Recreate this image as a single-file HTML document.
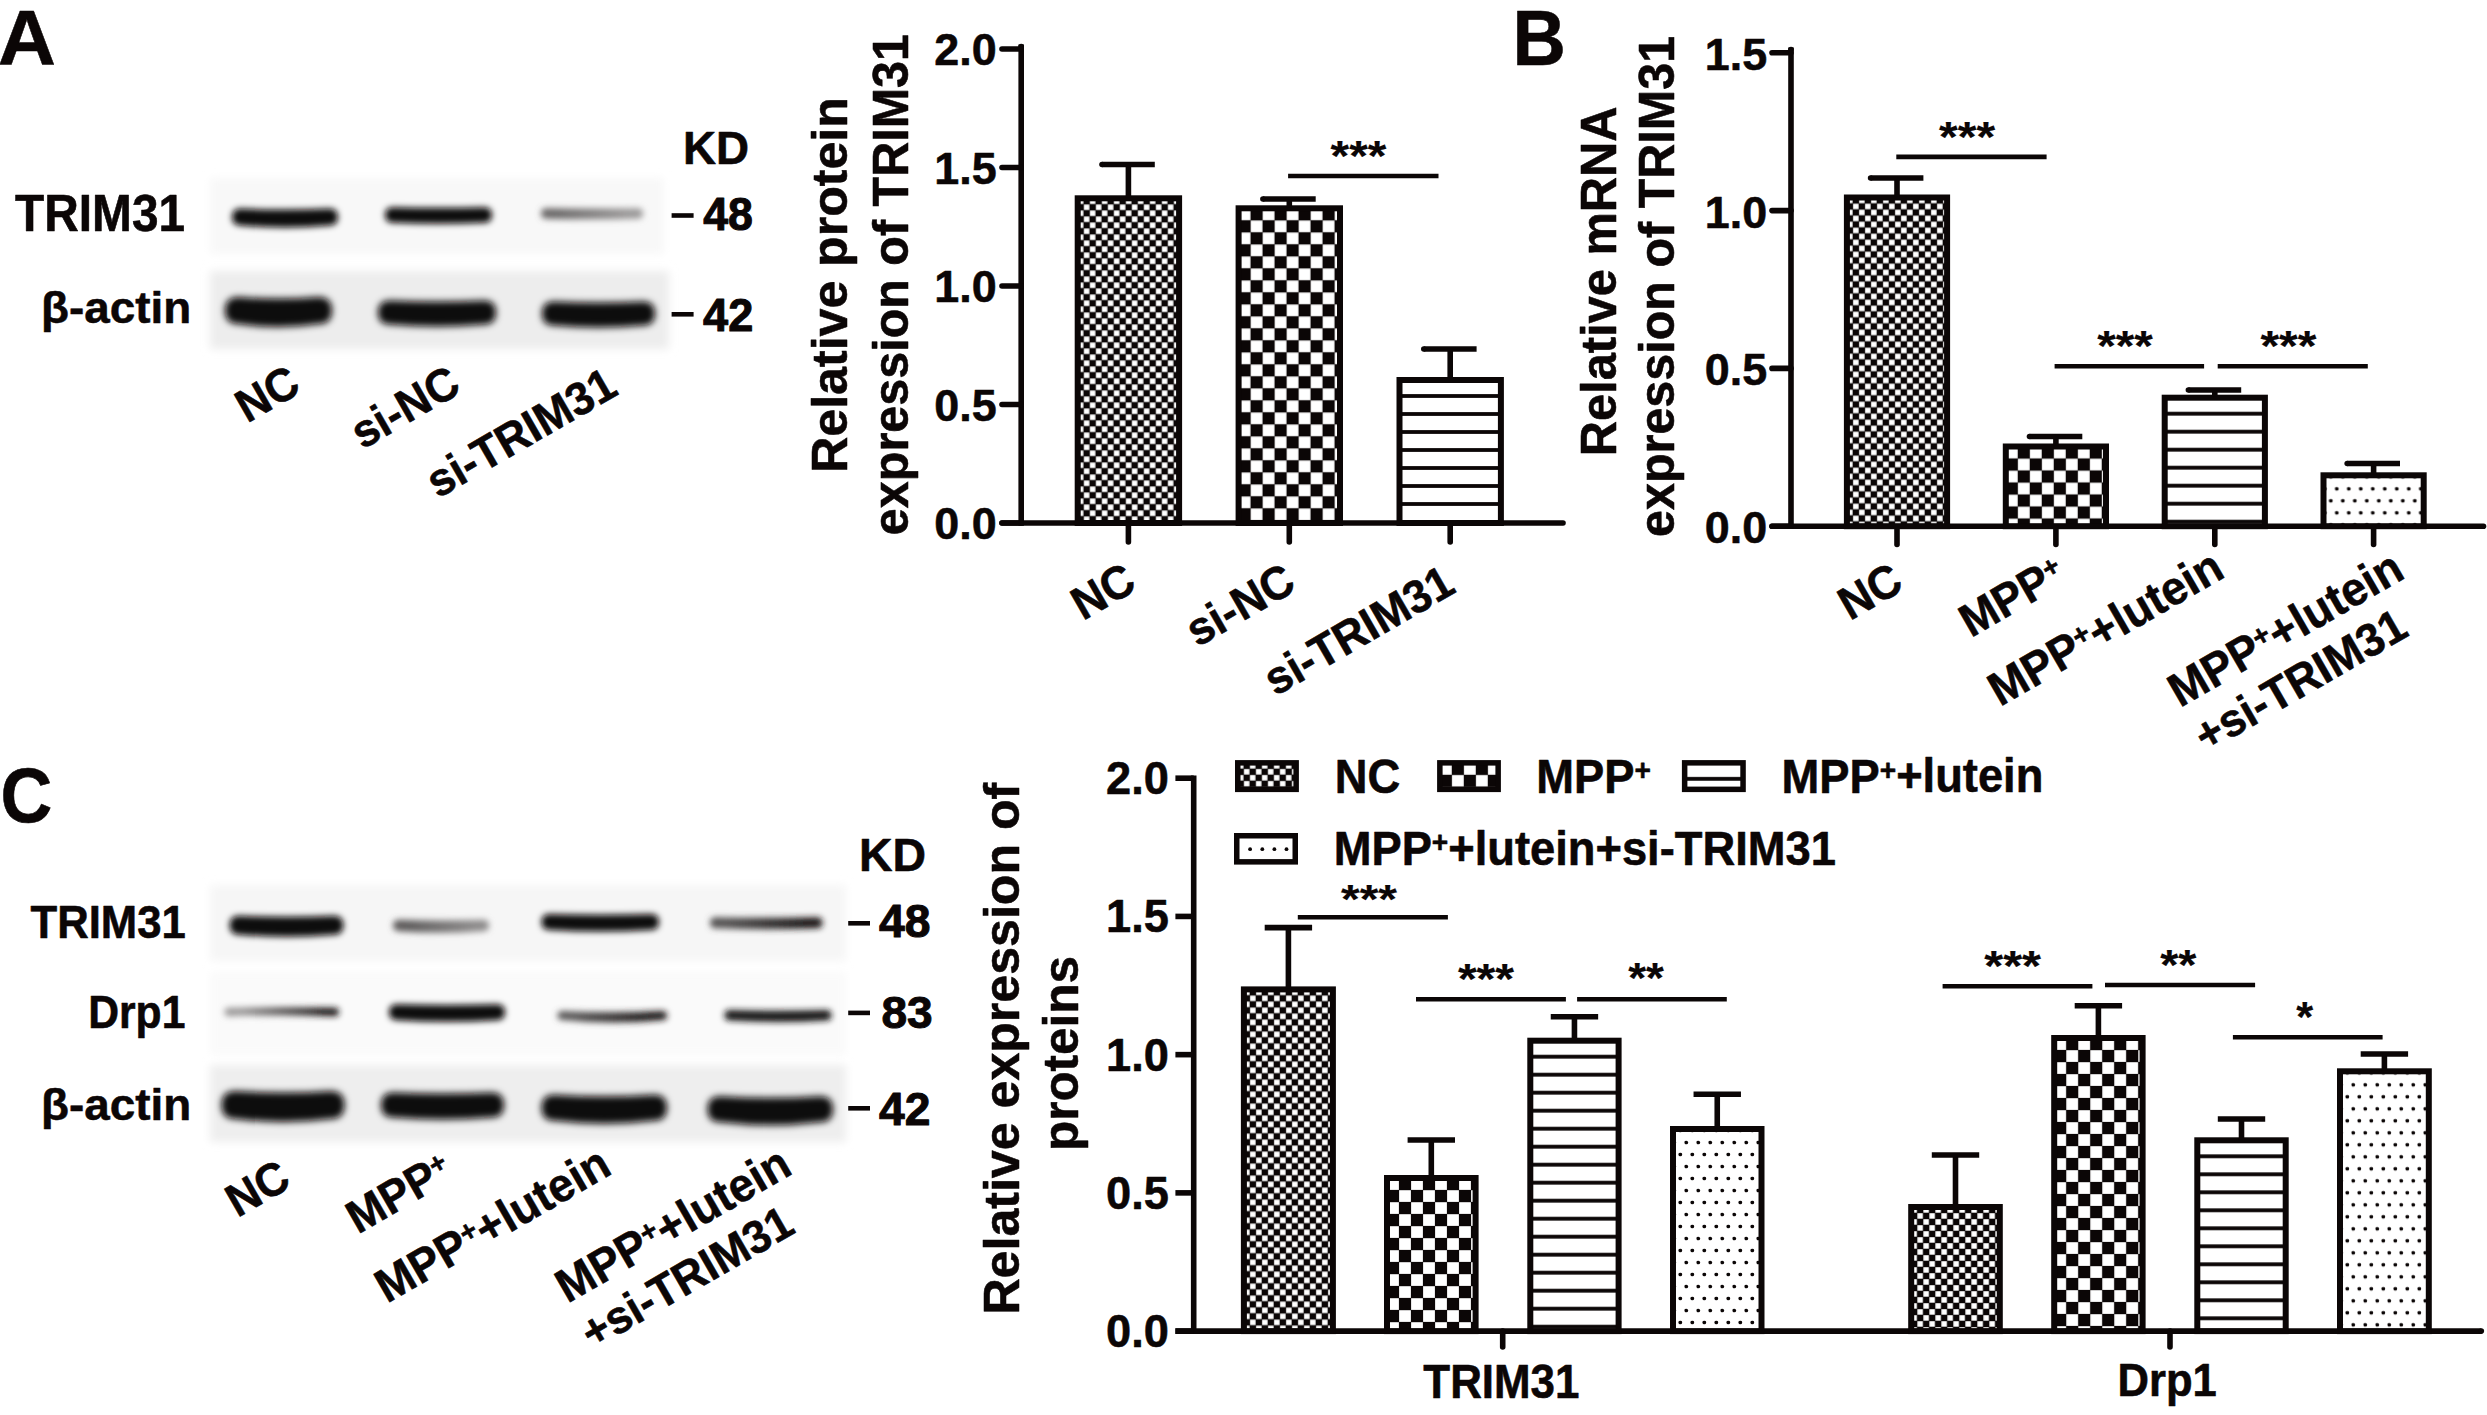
<!DOCTYPE html>
<html lang="en"><head><meta charset="utf-8"><title>Figure</title>
<style>
html,body{margin:0;padding:0;background:#fff;}
svg{display:block;}
text{font-family:"Liberation Sans",sans-serif;font-weight:700;fill:#0b0606;stroke:#0b0606;stroke-width:0.55px;stroke-linejoin:round;}
</style></head><body>
<svg width="2487" height="1415" viewBox="0 0 2487 1415">
<defs>
<pattern id="pf" width="12" height="12" patternUnits="userSpaceOnUse">
<rect width="12" height="12" fill="#0b0606"/><rect x="0.2" y="0.2" width="5.5" height="5.5" fill="#fff"/><rect x="6.2" y="6.2" width="5.5" height="5.5" fill="#fff"/></pattern>
<pattern id="pc" width="24" height="24" patternUnits="userSpaceOnUse">
<rect width="24" height="24" fill="#0b0606"/><rect x="0.1" y="0.2" width="11.8" height="11.7" fill="#fff"/><rect x="12.1" y="12.2" width="11.8" height="11.7" fill="#fff"/></pattern>
<pattern id="ph" width="18" height="18" patternUnits="userSpaceOnUse">
<rect width="18" height="18" fill="#fff"/><rect x="0" y="14.1" width="18" height="3.8" fill="#0b0606"/></pattern>
<pattern id="pd" width="12" height="24" patternUnits="userSpaceOnUse">
<rect width="12" height="24" fill="#fff"/><circle cx="7.3" cy="1.5" r="1.85" fill="#0b0606"/><circle cx="7.3" cy="25.5" r="1.85" fill="#0b0606"/><circle cx="1.3" cy="13.5" r="1.85" fill="#0b0606"/><circle cx="13.3" cy="13.5" r="1.85" fill="#0b0606"/></pattern>
<filter id="b2" x="-20%" y="-100%" width="140%" height="300%"><feGaussianBlur stdDeviation="3.1"/></filter>
<filter id="b3" x="-20%" y="-60%" width="140%" height="220%"><feGaussianBlur stdDeviation="3.6"/></filter>
<filter id="b6" x="-10%" y="-20%" width="120%" height="140%"><feGaussianBlur stdDeviation="4"/></filter>
</defs>
<rect width="2487" height="1415" fill="#fff"/>

<text transform="translate(-2.31 64.80) scale(1 0.9655)" font-size="80.60" text-anchor="start">A</text>
<text transform="translate(1512.41 64.80) scale(1 1.0466)" font-size="73.93" text-anchor="start">B</text>
<text transform="translate(0.53 822.22) scale(1 1.0873)" font-size="71.76" text-anchor="start">C</text>
<rect x="210" y="178" width="454" height="76" fill="#f8f8f8" filter="url(#b6)"/>
<rect x="210" y="271" width="459" height="78" fill="#ededed" filter="url(#b6)"/>
<path d="M240.5,208.5 Q285.0,210.5 329.5,208.5 Q338.0,208.5 338.0,217.0 Q338.0,225.5 329.5,225.5 Q285.0,229.5 240.5,225.5 Q232.0,225.5 232.0,217.0 Q232.0,208.5 240.5,208.5Z" fill="#0b0707" opacity="1" filter="url(#b2)"/>
<path d="M392.8,207.2 Q438.5,208.2 484.2,207.2 Q492.0,207.2 492.0,215.0 Q492.0,222.8 484.2,222.8 Q438.5,224.8 392.8,222.8 Q385.0,222.8 385.0,215.0 Q385.0,207.2 392.8,207.2Z" fill="#0b0707" opacity="1" filter="url(#b2)"/>
<linearGradient id="g1" gradientUnits="userSpaceOnUse" x1="541" y1="0" x2="643" y2="0"><stop offset="0.15" stop-color="#6a6868"/><stop offset="0.85" stop-color="#9a9898"/></linearGradient>
<path d="M546.2,208.3 Q592.0,208.8 637.8,208.3 Q643.0,208.3 643.0,213.6 Q643.0,218.8 637.8,218.8 Q592.0,219.8 546.2,218.8 Q541.0,218.8 541.0,213.6 Q541.0,208.3 546.2,208.3Z" fill="url(#g1)" opacity="1" filter="url(#b2)"/>
<path d="M238.5,297.0 Q278.5,300.0 318.5,297.0 Q332.0,297.0 332.0,310.5 Q332.0,324.0 318.5,324.0 Q278.5,330.0 238.5,324.0 Q225.0,324.0 225.0,310.5 Q225.0,297.0 238.5,297.0Z" fill="#0b0707" opacity="1" filter="url(#b3)"/>
<path d="M390.0,300.5 Q437.0,302.5 484.0,300.5 Q496.0,300.5 496.0,312.5 Q496.0,324.5 484.0,324.5 Q437.0,328.5 390.0,324.5 Q378.0,324.5 378.0,312.5 Q378.0,300.5 390.0,300.5Z" fill="#0b0707" opacity="1" filter="url(#b3)"/>
<path d="M554.0,301.5 Q598.5,303.5 643.0,301.5 Q655.0,301.5 655.0,313.5 Q655.0,325.5 643.0,325.5 Q598.5,329.5 554.0,325.5 Q542.0,325.5 542.0,313.5 Q542.0,301.5 554.0,301.5Z" fill="#0b0707" opacity="1" filter="url(#b3)"/>
<text transform="translate(15.12 230.56) scale(1 1.0669)" font-size="47.79" text-anchor="start">TRIM31</text>
<text transform="translate(41.09 322.50) scale(1 0.9567)" font-size="45.85" text-anchor="start">β-actin</text>
<text transform="translate(683.01 163.90) scale(1 1.0138)" font-size="45.77" text-anchor="start">KD</text>
<line x1="671.6" y1="215.5" x2="693.6" y2="215.5" stroke="#0b0606" stroke-width="4.6" stroke-linecap="butt"/>
<line x1="671.6" y1="314.3" x2="693.6" y2="314.3" stroke="#0b0606" stroke-width="4.6" stroke-linecap="butt"/>
<text transform="translate(703.13 229.64) scale(1 1.0373)" font-size="44.69" text-anchor="start" style="stroke-width:1.0px">48</text>
<text transform="translate(703.12 330.50) scale(1 1.0264)" font-size="45.12" text-anchor="start" style="stroke-width:1.0px">42</text>
<text transform="translate(247.30 423.50) rotate(-30) scale(1 1.0400)" font-size="44.50" text-anchor="start">NC</text>
<text transform="translate(362.40 449.80) rotate(-30) scale(1 1.0400)" font-size="44.50" text-anchor="start">si-NC</text>
<text transform="translate(438.00 498.70) rotate(-30) scale(1 1.0400)" font-size="44.50" text-anchor="start">si-TRIM31</text>
<rect x="210" y="885" width="636" height="76" fill="#f6f6f6" filter="url(#b6)"/>
<rect x="210" y="972" width="636" height="83" fill="#fafafa" filter="url(#b6)"/>
<rect x="210" y="1065" width="636" height="77" fill="#eeeeee" filter="url(#b6)"/>
<path d="M239.0,915.7 Q286.5,917.7 334.0,915.7 Q343.5,915.7 343.5,925.2 Q343.5,934.7 334.0,934.7 Q286.5,938.7 239.0,934.7 Q229.5,934.7 229.5,925.2 Q229.5,915.7 239.0,915.7Z" fill="#0b0707" opacity="1" filter="url(#b2)"/>
<linearGradient id="g2" gradientUnits="userSpaceOnUse" x1="393" y1="0" x2="489" y2="0"><stop offset="0.15" stop-color="#5e5c5c"/><stop offset="0.85" stop-color="#8c8a8a"/></linearGradient>
<path d="M398.8,919.8 Q441.0,921.2 483.2,919.8 Q489.0,919.8 489.0,925.5 Q489.0,931.2 483.2,931.2 Q441.0,934.2 398.8,931.2 Q393.0,931.2 393.0,925.5 Q393.0,919.8 398.8,919.8Z" fill="url(#g2)" opacity="1" filter="url(#b2)"/>
<path d="M549.5,914.0 Q600.2,915.5 651.0,914.0 Q659.0,914.0 659.0,922.0 Q659.0,930.0 651.0,930.0 Q600.2,933.0 549.5,930.0 Q541.5,930.0 541.5,922.0 Q541.5,914.0 549.5,914.0Z" fill="#0b0707" opacity="1" filter="url(#b2)"/>
<linearGradient id="g3" gradientUnits="userSpaceOnUse" x1="710" y1="0" x2="822.5" y2="0"><stop offset="0.15" stop-color="#555353"/><stop offset="0.85" stop-color="#1c1818"/></linearGradient>
<path d="M715.5,917.3 Q766.2,918.3 817.0,917.3 Q822.5,917.3 822.5,922.8 Q822.5,928.3 817.0,928.3 Q766.2,930.3 715.5,928.3 Q710.0,928.3 710.0,922.8 Q710.0,917.3 715.5,917.3Z" fill="url(#g3)" opacity="1" filter="url(#b2)"/>
<linearGradient id="g4" gradientUnits="userSpaceOnUse" x1="224.5" y1="0" x2="339" y2="0"><stop offset="0.15" stop-color="#9a9898"/><stop offset="0.85" stop-color="#1c1818"/></linearGradient>
<path d="M228.8,1007.8 Q281.8,1006.8 334.8,1007.8 Q339.0,1007.8 339.0,1012.0 Q339.0,1016.2 334.8,1016.2 Q281.8,1014.2 228.8,1016.2 Q224.5,1016.2 224.5,1012.0 Q224.5,1007.8 228.8,1007.8Z" fill="url(#g4)" opacity="1" filter="url(#b2)"/>
<path d="M397.0,1004.2 Q447.0,1005.7 497.0,1004.2 Q505.0,1004.2 505.0,1012.2 Q505.0,1020.2 497.0,1020.2 Q447.0,1023.2 397.0,1020.2 Q389.0,1020.2 389.0,1012.2 Q389.0,1004.2 397.0,1004.2Z" fill="#0b0707" opacity="1" filter="url(#b2)"/>
<linearGradient id="g5" gradientUnits="userSpaceOnUse" x1="557.5" y1="0" x2="667" y2="0"><stop offset="0.15" stop-color="#585656"/><stop offset="0.85" stop-color="#1c1818"/></linearGradient>
<path d="M562.0,1011.0 Q612.2,1013.5 662.5,1011.0 Q667.0,1011.0 667.0,1015.5 Q667.0,1020.0 662.5,1020.0 Q612.2,1025.0 562.0,1020.0 Q557.5,1020.0 557.5,1015.5 Q557.5,1011.0 562.0,1011.0Z" fill="url(#g5)" opacity="1" filter="url(#b2)"/>
<path d="M729.8,1010.0 Q778.0,1011.5 826.2,1010.0 Q831.5,1010.0 831.5,1015.3 Q831.5,1020.5 826.2,1020.5 Q778.0,1023.5 729.8,1020.5 Q724.5,1020.5 724.5,1015.3 Q724.5,1010.0 729.8,1010.0Z" fill="#171313" opacity="1" filter="url(#b2)"/>
<path d="M235.5,1091.0 Q283.0,1094.0 330.5,1091.0 Q344.5,1091.0 344.5,1105.0 Q344.5,1119.0 330.5,1119.0 Q283.0,1125.0 235.5,1119.0 Q221.5,1119.0 221.5,1105.0 Q221.5,1091.0 235.5,1091.0Z" fill="#0b0707" opacity="1" filter="url(#b3)"/>
<path d="M393.5,1092.5 Q442.5,1094.5 491.5,1092.5 Q504.0,1092.5 504.0,1105.0 Q504.0,1117.5 491.5,1117.5 Q442.5,1121.5 393.5,1117.5 Q381.0,1117.5 381.0,1105.0 Q381.0,1092.5 393.5,1092.5Z" fill="#0b0707" opacity="1" filter="url(#b3)"/>
<path d="M554.5,1094.8 Q604.2,1097.8 654.0,1094.8 Q667.0,1094.8 667.0,1107.8 Q667.0,1120.8 654.0,1120.8 Q604.2,1126.8 554.5,1120.8 Q541.5,1120.8 541.5,1107.8 Q541.5,1094.8 554.5,1094.8Z" fill="#0b0707" opacity="1" filter="url(#b3)"/>
<path d="M720.5,1096.3 Q770.2,1099.3 820.0,1096.3 Q833.0,1096.3 833.0,1109.3 Q833.0,1122.3 820.0,1122.3 Q770.2,1128.3 720.5,1122.3 Q707.5,1122.3 707.5,1109.3 Q707.5,1096.3 720.5,1096.3Z" fill="#0b0707" opacity="1" filter="url(#b3)"/>
<text transform="translate(30.46 938.12) scale(1 1.0547)" font-size="43.67" text-anchor="start">TRIM31</text>
<text transform="translate(88.22 1028.29) scale(1 1.0634)" font-size="42.66" text-anchor="start">Drp1</text>
<text transform="translate(41.09 1120.35) scale(1 0.9614)" font-size="45.85" text-anchor="start">β-actin</text>
<text transform="translate(858.97 870.90) scale(1 0.9928)" font-size="46.44" text-anchor="start">KD</text>
<line x1="848.2" y1="923.3" x2="870" y2="923.3" stroke="#0b0606" stroke-width="4.6" stroke-linecap="butt"/>
<text transform="translate(878.91 936.73) scale(1 1.0107)" font-size="46.29" text-anchor="start" style="stroke-width:1.0px">48</text>
<line x1="848.2" y1="1012.9" x2="870" y2="1012.9" stroke="#0b0606" stroke-width="4.6" stroke-linecap="butt"/>
<text transform="translate(881.50 1027.95) scale(1 0.9544)" font-size="46.04" text-anchor="start" style="stroke-width:1.0px">83</text>
<line x1="848.2" y1="1108.3" x2="870" y2="1108.3" stroke="#0b0606" stroke-width="4.6" stroke-linecap="butt"/>
<text transform="translate(878.91 1125.10) scale(1 1.0042)" font-size="46.26" text-anchor="start" style="stroke-width:1.0px">42</text>
<text transform="translate(237.40 1218.00) rotate(-30) scale(1 1.0400)" font-size="44.50" text-anchor="start">NC</text>
<text transform="translate(357.90 1234.40) rotate(-30) scale(1 1.0400)" font-size="44.50" text-anchor="start">MPP<tspan font-size="62%" dy="-0.42em">+</tspan><tspan dy="0.26em"></tspan></text>
<text transform="translate(387.10 1303.80) rotate(-30) scale(1 1.0400)" font-size="45.30" text-anchor="start">MPP<tspan font-size="62%" dy="-0.42em">+</tspan><tspan dy="0.26em">+lutein</tspan></text>
<text transform="translate(567.50 1303.80) rotate(-30) scale(1 1.0400)" font-size="45.30" text-anchor="start">MPP<tspan font-size="62%" dy="-0.42em">+</tspan><tspan dy="0.26em">+lutein</tspan></text>
<text transform="translate(592.40 1350.00) rotate(-30) scale(1 1.0400)" font-size="44.50" text-anchor="start">+si-TRIM31</text>
<line x1="1021.2" y1="44.5" x2="1021.2" y2="525.8" stroke="#0b0606" stroke-width="5.6" stroke-linecap="butt"/>
<circle cx="1021.2" cy="46.5" r="2.8" fill="#0b0606"/>
<line x1="1002" y1="523.0" x2="1563" y2="523.0" stroke="#0b0606" stroke-width="5.6" stroke-linecap="round"/>
<line x1="1002" y1="523.0" x2="1021.2" y2="523.0" stroke="#0b0606" stroke-width="5.6" stroke-linecap="round"/>
<text transform="translate(996.60 539.10) scale(1 1.0050)" font-size="44.90" text-anchor="end">0.0</text>
<line x1="1002" y1="404.5" x2="1021.2" y2="404.5" stroke="#0b0606" stroke-width="5.6" stroke-linecap="round"/>
<text transform="translate(996.60 420.60) scale(1 1.0050)" font-size="44.90" text-anchor="end">0.5</text>
<line x1="1002" y1="286.0" x2="1021.2" y2="286.0" stroke="#0b0606" stroke-width="5.6" stroke-linecap="round"/>
<text transform="translate(996.60 302.10) scale(1 1.0050)" font-size="44.90" text-anchor="end">1.0</text>
<line x1="1002" y1="167.5" x2="1021.2" y2="167.5" stroke="#0b0606" stroke-width="5.6" stroke-linecap="round"/>
<text transform="translate(996.60 183.60) scale(1 1.0050)" font-size="44.90" text-anchor="end">1.5</text>
<line x1="1002" y1="49.0" x2="1021.2" y2="49.0" stroke="#0b0606" stroke-width="5.6" stroke-linecap="round"/>
<text transform="translate(996.60 65.10) scale(1 1.0050)" font-size="44.90" text-anchor="end">2.0</text>
<line x1="1128.4" y1="523.0" x2="1128.4" y2="542" stroke="#0b0606" stroke-width="5.6" stroke-linecap="round"/>
<line x1="1289.3" y1="523.0" x2="1289.3" y2="542" stroke="#0b0606" stroke-width="5.6" stroke-linecap="round"/>
<line x1="1450.2" y1="523.0" x2="1450.2" y2="542" stroke="#0b0606" stroke-width="5.6" stroke-linecap="round"/>
<g transform="translate(1077.70 198.30)"><rect x="0" y="0" width="101.40" height="324.70" fill="url(#pf)" stroke="#0b0606" stroke-width="6"/></g>
<line x1="1128.4" y1="164.5" x2="1128.4" y2="197.3" stroke="#0b0606" stroke-width="5.6" stroke-linecap="butt"/>
<line x1="1102.0" y1="164.5" x2="1154.8" y2="164.5" stroke="#0b0606" stroke-width="5.6" stroke-linecap="butt"/>
<circle cx="1102.00" cy="164.5" r="2.8" fill="#0b0606"/>
<g transform="translate(1238.60 208.30)"><rect x="0" y="0" width="101.40" height="314.70" fill="url(#pc)" stroke="#0b0606" stroke-width="6"/></g>
<line x1="1289.3" y1="199.0" x2="1289.3" y2="207.3" stroke="#0b0606" stroke-width="5.6" stroke-linecap="butt"/>
<line x1="1262.8999999999999" y1="199.0" x2="1315.6999999999998" y2="199.0" stroke="#0b0606" stroke-width="5.6" stroke-linecap="butt"/>
<circle cx="1262.90" cy="199.0" r="2.8" fill="#0b0606"/>
<g transform="translate(1399.50 380.00)"><rect x="0" y="0" width="101.40" height="143.00" fill="url(#ph)" stroke="#0b0606" stroke-width="6"/></g>
<line x1="1450.2" y1="349.0" x2="1450.2" y2="379.0" stroke="#0b0606" stroke-width="5.6" stroke-linecap="butt"/>
<line x1="1423.8" y1="349.0" x2="1476.6" y2="349.0" stroke="#0b0606" stroke-width="5.6" stroke-linecap="butt"/>
<circle cx="1423.80" cy="349.0" r="2.8" fill="#0b0606"/>
<line x1="1288.1" y1="176.05" x2="1438.5" y2="176.05" stroke="#0b0606" stroke-width="4.6" stroke-linecap="butt"/>
<text transform="translate(1330.58 169.61) scale(1 0.9053)" font-size="47.74" text-anchor="start" style="stroke-width:0.2px">***</text>
<text transform="translate(847.15 472.78) rotate(-90) scale(1 0.9958)" font-size="50.07" text-anchor="start">Relative protein</text>
<text transform="translate(907.61 535.14) rotate(-90) scale(1 1.0128)" font-size="48.49" text-anchor="start">expression of TRIM31</text>
<text transform="translate(1083.00 621.00) rotate(-30) scale(1 1.0400)" font-size="44.50" text-anchor="start">NC</text>
<text transform="translate(1197.50 647.50) rotate(-30) scale(1 1.0400)" font-size="44.50" text-anchor="start">si-NC</text>
<text transform="translate(1275.50 696.50) rotate(-30) scale(1 1.0400)" font-size="44.50" text-anchor="start">si-TRIM31</text>
<line x1="1791.0" y1="47.5" x2="1791.0" y2="529.0" stroke="#0b0606" stroke-width="5.6" stroke-linecap="butt"/>
<circle cx="1791.0" cy="49.5" r="2.8" fill="#0b0606"/>
<line x1="1772" y1="526.2" x2="2483.5" y2="526.2" stroke="#0b0606" stroke-width="5.6" stroke-linecap="round"/>
<line x1="1772" y1="526.2" x2="1791.0" y2="526.2" stroke="#0b0606" stroke-width="5.6" stroke-linecap="round"/>
<text transform="translate(1767.20 543.20) scale(1 1.0050)" font-size="44.90" text-anchor="end">0.0</text>
<line x1="1772" y1="368.40000000000003" x2="1791.0" y2="368.40000000000003" stroke="#0b0606" stroke-width="5.6" stroke-linecap="round"/>
<text transform="translate(1767.20 385.40) scale(1 1.0050)" font-size="44.90" text-anchor="end">0.5</text>
<line x1="1772" y1="210.60000000000002" x2="1791.0" y2="210.60000000000002" stroke="#0b0606" stroke-width="5.6" stroke-linecap="round"/>
<text transform="translate(1767.20 227.60) scale(1 1.0050)" font-size="44.90" text-anchor="end">1.0</text>
<line x1="1772" y1="52.80000000000001" x2="1791.0" y2="52.80000000000001" stroke="#0b0606" stroke-width="5.6" stroke-linecap="round"/>
<text transform="translate(1767.20 69.80) scale(1 1.0050)" font-size="44.90" text-anchor="end">1.5</text>
<line x1="1897.0" y1="526.2" x2="1897.0" y2="544.5" stroke="#0b0606" stroke-width="5.6" stroke-linecap="round"/>
<line x1="2055.9" y1="526.2" x2="2055.9" y2="544.5" stroke="#0b0606" stroke-width="5.6" stroke-linecap="round"/>
<line x1="2214.8" y1="526.2" x2="2214.8" y2="544.5" stroke="#0b0606" stroke-width="5.6" stroke-linecap="round"/>
<line x1="2373.6" y1="526.2" x2="2373.6" y2="544.5" stroke="#0b0606" stroke-width="5.6" stroke-linecap="round"/>
<g transform="translate(1846.90 197.50)"><rect x="0" y="0" width="100.20" height="328.70" fill="url(#pf)" stroke="#0b0606" stroke-width="6"/></g>
<line x1="1897.0" y1="178.0" x2="1897.0" y2="196.5" stroke="#0b0606" stroke-width="5.6" stroke-linecap="butt"/>
<line x1="1870.6" y1="178.0" x2="1923.3999999999999" y2="178.0" stroke="#0b0606" stroke-width="5.6" stroke-linecap="butt"/>
<circle cx="1870.60" cy="178.0" r="2.8" fill="#0b0606"/>
<g transform="translate(2005.80 446.50)"><rect x="0" y="0" width="100.20" height="79.70" fill="url(#pc)" stroke="#0b0606" stroke-width="6"/></g>
<line x1="2055.9" y1="436.5" x2="2055.9" y2="445.5" stroke="#0b0606" stroke-width="5.6" stroke-linecap="butt"/>
<line x1="2029.5" y1="436.5" x2="2082.3" y2="436.5" stroke="#0b0606" stroke-width="5.6" stroke-linecap="butt"/>
<circle cx="2029.50" cy="436.5" r="2.8" fill="#0b0606"/>
<g transform="translate(2164.70 397.70)"><rect x="0" y="0" width="100.20" height="128.50" fill="url(#ph)" stroke="#0b0606" stroke-width="6"/></g>
<line x1="2214.8" y1="390.0" x2="2214.8" y2="396.7" stroke="#0b0606" stroke-width="5.6" stroke-linecap="butt"/>
<line x1="2188.4" y1="390.0" x2="2241.2000000000003" y2="390.0" stroke="#0b0606" stroke-width="5.6" stroke-linecap="butt"/>
<circle cx="2188.40" cy="390.0" r="2.8" fill="#0b0606"/>
<g transform="translate(2323.50 475.30)"><rect x="0" y="0" width="100.20" height="50.90" fill="url(#pd)" stroke="#0b0606" stroke-width="6"/></g>
<line x1="2373.6" y1="463.5" x2="2373.6" y2="474.3" stroke="#0b0606" stroke-width="5.6" stroke-linecap="butt"/>
<line x1="2347.2" y1="463.5" x2="2400.0" y2="463.5" stroke="#0b0606" stroke-width="5.6" stroke-linecap="butt"/>
<circle cx="2347.20" cy="463.5" r="2.8" fill="#0b0606"/>
<line x1="1896.3" y1="156.9" x2="2046.6" y2="156.9" stroke="#0b0606" stroke-width="4.6" stroke-linecap="butt"/>
<text transform="translate(1939.08 151.21) scale(1 0.9004)" font-size="48.00" text-anchor="start" style="stroke-width:0.2px">***</text>
<line x1="2054.6" y1="366.2" x2="2204.1" y2="366.2" stroke="#0b0606" stroke-width="4.6" stroke-linecap="butt"/>
<text transform="translate(2097.28 359.98) scale(1 0.8844)" font-size="47.66" text-anchor="start" style="stroke-width:0.2px">***</text>
<line x1="2217.7" y1="366.2" x2="2367.8" y2="366.2" stroke="#0b0606" stroke-width="4.6" stroke-linecap="butt"/>
<text transform="translate(2260.38 359.98) scale(1 0.8781)" font-size="48.00" text-anchor="start" style="stroke-width:0.2px">***</text>
<text transform="translate(1616.00 456.29) rotate(-90) scale(1 1.0234)" font-size="48.79" text-anchor="start">Relative mRNA</text>
<text transform="translate(1673.81 537.04) rotate(-90) scale(1 1.0128)" font-size="48.49" text-anchor="start">expression of TRIM31</text>
<text transform="translate(1850.00 621.00) rotate(-30) scale(1 1.0400)" font-size="44.50" text-anchor="start">NC</text>
<text transform="translate(1971.00 638.00) rotate(-30) scale(1 1.0400)" font-size="44.50" text-anchor="start">MPP<tspan font-size="62%" dy="-0.42em">+</tspan><tspan dy="0.26em"></tspan></text>
<text transform="translate(2000.00 707.00) rotate(-30) scale(1 1.0400)" font-size="45.30" text-anchor="start">MPP<tspan font-size="62%" dy="-0.42em">+</tspan><tspan dy="0.26em">+lutein</tspan></text>
<text transform="translate(2180.00 708.00) rotate(-30) scale(1 1.0400)" font-size="45.30" text-anchor="start">MPP<tspan font-size="62%" dy="-0.42em">+</tspan><tspan dy="0.26em">+lutein</tspan></text>
<text transform="translate(2206.00 753.00) rotate(-30) scale(1 1.0400)" font-size="44.50" text-anchor="start">+si-TRIM31</text>
<line x1="1193.7" y1="775.4" x2="1193.7" y2="1333.8999999999999" stroke="#0b0606" stroke-width="5.6" stroke-linecap="butt"/>
<line x1="1175.4" y1="1331.1" x2="2481.3" y2="1331.1" stroke="#0b0606" stroke-width="5.6" stroke-linecap="butt"/>
<circle cx="2481.3" cy="1331.1" r="2.8" fill="#0b0606"/>
<line x1="1175.4" y1="1331.1" x2="1193.7" y2="1331.1" stroke="#0b0606" stroke-width="5.6" stroke-linecap="butt"/>
<text transform="translate(1168.90 1347.10) scale(1 1.0100)" font-size="45.20" text-anchor="end">0.0</text>
<line x1="1175.4" y1="1192.875" x2="1193.7" y2="1192.875" stroke="#0b0606" stroke-width="5.6" stroke-linecap="butt"/>
<text transform="translate(1168.90 1208.88) scale(1 1.0100)" font-size="45.20" text-anchor="end">0.5</text>
<line x1="1175.4" y1="1054.6499999999999" x2="1193.7" y2="1054.6499999999999" stroke="#0b0606" stroke-width="5.6" stroke-linecap="butt"/>
<text transform="translate(1168.90 1070.65) scale(1 1.0100)" font-size="45.20" text-anchor="end">1.0</text>
<line x1="1175.4" y1="916.425" x2="1193.7" y2="916.425" stroke="#0b0606" stroke-width="5.6" stroke-linecap="butt"/>
<text transform="translate(1168.90 932.42) scale(1 1.0100)" font-size="45.20" text-anchor="end">1.5</text>
<line x1="1175.4" y1="778.1999999999999" x2="1193.7" y2="778.1999999999999" stroke="#0b0606" stroke-width="5.6" stroke-linecap="butt"/>
<text transform="translate(1168.90 794.20) scale(1 1.0100)" font-size="45.20" text-anchor="end">2.0</text>
<line x1="1502.7" y1="1331.1" x2="1502.7" y2="1347" stroke="#0b0606" stroke-width="5.6" stroke-linecap="round"/>
<line x1="2170" y1="1331.1" x2="2170" y2="1347" stroke="#0b0606" stroke-width="5.6" stroke-linecap="round"/>
<g transform="translate(1243.90 989.40)"><rect x="0" y="0" width="89.00" height="341.70" fill="url(#pf)" stroke="#0b0606" stroke-width="6"/></g>
<line x1="1288.4" y1="927.6" x2="1288.4" y2="988.4" stroke="#0b0606" stroke-width="5.6" stroke-linecap="butt"/>
<line x1="1264.7" y1="927.6" x2="1312.1000000000001" y2="927.6" stroke="#0b0606" stroke-width="5.6" stroke-linecap="butt"/>
<g transform="translate(1387.00 1178.00)"><rect x="0" y="0" width="88.60" height="153.10" fill="url(#pc)" stroke="#0b0606" stroke-width="6"/></g>
<line x1="1431.3" y1="1140" x2="1431.3" y2="1177" stroke="#0b0606" stroke-width="5.6" stroke-linecap="butt"/>
<line x1="1407.6" y1="1140" x2="1455.0" y2="1140" stroke="#0b0606" stroke-width="5.6" stroke-linecap="butt"/>
<g transform="translate(1530.30 1040.70)"><rect x="0" y="0" width="88.30" height="290.40" fill="url(#ph)" stroke="#0b0606" stroke-width="6"/></g>
<line x1="1574.4499999999998" y1="1016.7" x2="1574.4499999999998" y2="1039.7" stroke="#0b0606" stroke-width="5.6" stroke-linecap="butt"/>
<line x1="1550.7499999999998" y1="1016.7" x2="1598.1499999999999" y2="1016.7" stroke="#0b0606" stroke-width="5.6" stroke-linecap="butt"/>
<g transform="translate(1673.00 1129.00)"><rect x="0" y="0" width="88.50" height="202.10" fill="url(#pd)" stroke="#0b0606" stroke-width="6"/></g>
<line x1="1717.25" y1="1094.3" x2="1717.25" y2="1128" stroke="#0b0606" stroke-width="5.6" stroke-linecap="butt"/>
<line x1="1693.55" y1="1094.3" x2="1740.95" y2="1094.3" stroke="#0b0606" stroke-width="5.6" stroke-linecap="butt"/>
<g transform="translate(1911.20 1207.00)"><rect x="0" y="0" width="88.60" height="124.10" fill="url(#pf)" stroke="#0b0606" stroke-width="6"/></g>
<line x1="1955.5" y1="1155" x2="1955.5" y2="1206" stroke="#0b0606" stroke-width="5.6" stroke-linecap="butt"/>
<line x1="1931.8" y1="1155" x2="1979.2" y2="1155" stroke="#0b0606" stroke-width="5.6" stroke-linecap="butt"/>
<g transform="translate(2054.20 1038.00)"><rect x="0" y="0" width="88.40" height="293.10" fill="url(#pc)" stroke="#0b0606" stroke-width="6"/></g>
<line x1="2098.3999999999996" y1="1005.7" x2="2098.3999999999996" y2="1037" stroke="#0b0606" stroke-width="5.6" stroke-linecap="butt"/>
<line x1="2074.7" y1="1005.7" x2="2122.0999999999995" y2="1005.7" stroke="#0b0606" stroke-width="5.6" stroke-linecap="butt"/>
<g transform="translate(2197.30 1140.30)"><rect x="0" y="0" width="88.40" height="190.80" fill="url(#ph)" stroke="#0b0606" stroke-width="6"/></g>
<line x1="2241.5" y1="1119" x2="2241.5" y2="1139.3" stroke="#0b0606" stroke-width="5.6" stroke-linecap="butt"/>
<line x1="2217.8" y1="1119" x2="2265.2" y2="1119" stroke="#0b0606" stroke-width="5.6" stroke-linecap="butt"/>
<g transform="translate(2340.00 1071.30)"><rect x="0" y="0" width="88.80" height="259.80" fill="url(#pd)" stroke="#0b0606" stroke-width="6"/></g>
<line x1="2384.4" y1="1054" x2="2384.4" y2="1070.3" stroke="#0b0606" stroke-width="5.6" stroke-linecap="butt"/>
<line x1="2360.7000000000003" y1="1054" x2="2408.1" y2="1054" stroke="#0b0606" stroke-width="5.6" stroke-linecap="butt"/>
<line x1="1297.8" y1="917.2" x2="1447.9" y2="917.2" stroke="#0b0606" stroke-width="4.6" stroke-linecap="butt"/>
<text transform="translate(1341.08 912.52) scale(1 0.8628)" font-size="47.91" text-anchor="start" style="stroke-width:0.2px">***</text>
<line x1="1416" y1="999.2" x2="1565.9" y2="999.2" stroke="#0b0606" stroke-width="4.6" stroke-linecap="butt"/>
<text transform="translate(1457.88 992.86) scale(1 0.8805)" font-size="48.17" text-anchor="start" style="stroke-width:0.2px">***</text>
<line x1="1577.1" y1="999.2" x2="1726.8" y2="999.2" stroke="#0b0606" stroke-width="4.6" stroke-linecap="butt"/>
<text transform="translate(1628.29 992.29) scale(1 0.9143)" font-size="45.81" text-anchor="start" style="stroke-width:0.2px">**</text>
<line x1="1942.6" y1="986.2" x2="2092.4" y2="986.2" stroke="#0b0606" stroke-width="4.6" stroke-linecap="butt"/>
<text transform="translate(1984.28 979.85) scale(1 0.8782)" font-size="48.60" text-anchor="start" style="stroke-width:0.2px">***</text>
<line x1="2105" y1="985" x2="2255.1" y2="985" stroke="#0b0606" stroke-width="4.6" stroke-linecap="butt"/>
<text transform="translate(2160.28 978.69) scale(1 0.9016)" font-size="46.45" text-anchor="start" style="stroke-width:0.2px">**</text>
<line x1="2232.9" y1="1037.3" x2="2382.6" y2="1037.3" stroke="#0b0606" stroke-width="4.6" stroke-linecap="butt"/>
<text transform="translate(2296.19 1030.68) scale(1 0.9717)" font-size="43.38" text-anchor="start" style="stroke-width:0.2px">*</text>
<text transform="translate(1018.50 1314.58) rotate(-90) scale(1 0.9908)" font-size="50.11" text-anchor="start">Relative expression of</text>
<text transform="translate(1078.18 1151.01) rotate(-90) scale(1 1.0067)" font-size="49.43" text-anchor="start">proteins</text>
<text transform="translate(1423.36 1397.60) scale(1 1.0845)" font-size="43.89" text-anchor="start">TRIM31</text>
<text transform="translate(2117.56 1396.28) scale(1 1.0641)" font-size="43.57" text-anchor="start">Drp1</text>
<g transform="translate(1237.75 762.85)"><rect x="0.0" y="0.0" width="58.40" height="26.50" fill="url(#pf)" stroke="#0b0606" stroke-width="5.5"/></g>
<g transform="translate(1439.85 762.85)"><rect x="0.0" y="0.0" width="58.30" height="26.50" fill="url(#pc)" stroke="#0b0606" stroke-width="5.5"/></g>
<g transform="translate(1684.65 762.85)"><rect x="0.0" y="0.0" width="58.40" height="26.50" fill="url(#ph)" stroke="#0b0606" stroke-width="5.5"/></g>
<rect x="1236.75" y="835.75" width="58.5" height="26.1" fill="#fff" stroke="#0b0606" stroke-width="5.5"/>
<circle cx="1250.1" cy="849.2" r="1.9" fill="#0b0606"/>
<circle cx="1262.3" cy="849.2" r="1.9" fill="#0b0606"/>
<circle cx="1274.4" cy="849.2" r="1.9" fill="#0b0606"/>
<circle cx="1286.5" cy="849.2" r="1.9" fill="#0b0606"/>
<text transform="translate(1334.70 792.50) scale(1 1.0500)" font-size="45.30" text-anchor="start">NC</text>
<text transform="translate(1536.30 792.50) scale(1 1.0500)" font-size="45.30" text-anchor="start">MPP<tspan font-size="62%" dy="-0.42em">+</tspan><tspan dy="0.26em"></tspan></text>
<text transform="translate(1781.60 792.50) scale(1 1.0500)" font-size="45.30" text-anchor="start">MPP<tspan font-size="62%" dy="-0.42em">+</tspan><tspan dy="0.26em">+lutein</tspan></text>
<text transform="translate(1333.70 864.60) scale(1 1.0500)" font-size="45.30" text-anchor="start">MPP<tspan font-size="62%" dy="-0.42em">+</tspan><tspan dy="0.26em">+lutein+si-TRIM31</tspan></text>
</svg></body></html>
